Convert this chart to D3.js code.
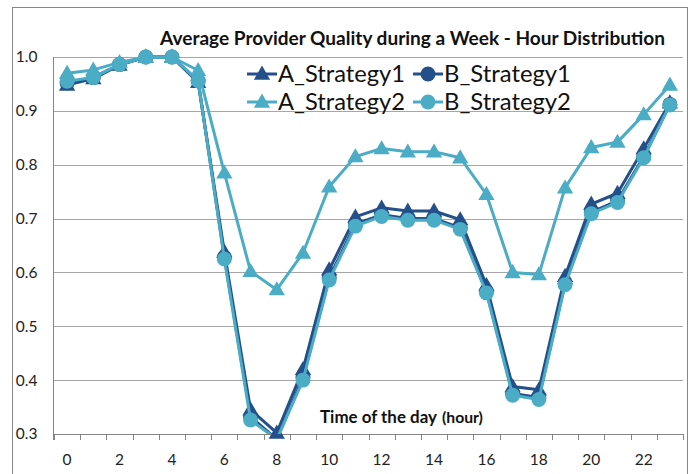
<!DOCTYPE html>
<html><head><meta charset="utf-8">
<script src="https://cdn.jsdelivr.net/npm/d3@7/dist/d3.min.js"></script>
<style>body{margin:0;background:#fff}svg{display:block}</style>
</head><body>
<svg id="c" width="693" height="474"></svg>
<script>
const hours = [0,1,2,3,4,5,6,7,8,9,10,11,12,13,14,15,16,17,18,19,20,21,22,23];
const xTickLabels = ["0","2","4","6","8","10","12","14","16","18","20","22"];
const yTicks = [0.3,0.4,0.5,0.6,0.7,0.8,0.9,1.0];
const seriesNames = ["A_Strategy1","B_Strategy1","A_Strategy2","B_Strategy2"];
const aStrategy1 = [0.948,0.960,0.985,1.0,1.0,0.953,0.638,0.345,0.302,0.420,0.605,0.703,0.720,0.714,0.714,0.698,0.576,0.388,0.382,0.593,0.727,0.747,0.830,0.915];
const bStrategy1 = [0.952,0.962,0.986,1.0,1.0,0.956,0.628,0.332,0.290,0.405,0.590,0.690,0.707,0.700,0.700,0.683,0.565,0.375,0.368,0.580,0.712,0.733,0.815,0.912];
const aStrategy2 = [0.970,0.976,0.990,1.0,1.0,0.975,0.785,0.602,0.568,0.636,0.759,0.815,0.830,0.824,0.824,0.813,0.745,0.600,0.596,0.757,0.832,0.842,0.893,0.948];
const bStrategy2 = [0.955,0.962,0.986,1.0,1.0,0.956,0.625,0.326,0.290,0.400,0.586,0.686,0.704,0.697,0.697,0.680,0.562,0.372,0.364,0.577,0.709,0.730,0.813,0.911];
const title = "Average Provider Quality during a Week - Hour Distribution";
const xTitle = "Time of the day";
const xTitleUnit = "(hour)";

const dark = "#24508a", light = "#4bacc6";
const series = [
  {name: seriesNames[0], values: aStrategy1, color: dark, shape: "tri"},
  {name: seriesNames[1], values: bStrategy1, color: dark, shape: "circ"},
  {name: seriesNames[2], values: aStrategy2, color: light, shape: "tri"},
  {name: seriesNames[3], values: bStrategy2, color: light, shape: "circ"}
];
const FONT = "Lato, 'Open Sans', sans-serif";
const svg = d3.select("#c");
const L = 53, R = 683, T = 57, B = 434;

// outer border
svg.append("rect").attr("x",12.5).attr("y",7.5).attr("width",675).attr("height",480)
  .attr("fill","none").attr("stroke","#878787").attr("stroke-width",1);

const x = d3.scaleBand().domain(hours).range([L+1, R]).padding(0);
const y = d3.scaleLinear().domain([0.3,1.0]).range([B, T]);
const cx = h => x(h) + x.bandwidth()/2;

// gridlines
svg.append("g").selectAll("line").data(yTicks.slice(1)).join("line")
  .attr("x1",L).attr("x2",R).attr("y1",d=>Math.round(y(d))+0.5).attr("y2",d=>Math.round(y(d))+0.5)
  .attr("stroke","#a6a6a6").attr("stroke-width",1);

// y axis
const yAxis = d3.axisLeft(y).tickValues(yTicks).tickFormat(d3.format(".1f")).tickSize(0).tickPadding(16);
const gy = svg.append("g").attr("transform",`translate(${L+0.5},0)`).call(yAxis);
gy.select(".domain").remove();
gy.selectAll("text").attr("font-family",FONT).attr("font-size",15.5).attr("fill","#222").attr("dx",0);
svg.append("line").attr("x1",L+0.5).attr("x2",L+0.5).attr("y1",T).attr("y2",B+6).attr("stroke","#868686");

// x axis
const xb = d3.scaleLinear().domain([0,24]).range([L+1, R]);
const gx = svg.append("g");
gx.append("line").attr("x1",L).attr("x2",R).attr("y1",B+0.5).attr("y2",B+0.5).attr("stroke","#868686");
gx.selectAll(".tk").data(d3.range(25)).join("line").attr("class","tk")
  .attr("x1",d=>Math.round(xb(d))+0.5).attr("x2",d=>Math.round(xb(d))+0.5)
  .attr("y1",B).attr("y2",B+6).attr("stroke","#868686");
gx.selectAll("text").data(xTickLabels).join("text")
  .attr("x",d=>cx(+d)).attr("y",465).attr("text-anchor","middle")
  .attr("font-family",FONT).attr("font-size",15.5).attr("fill","#222").text(d=>d);

// series
const clip = svg.append("clipPath").attr("id","pa").append("rect")
  .attr("x",L).attr("y",T-20).attr("width",R-L+10).attr("height",B-T+20);
const line = d3.line().x((d,i)=>cx(hours[i])).y(d=>y(d));
const tri = d3.symbol().type(d3.symbolTriangle).size(115);
const circ = d3.symbol().type(d3.symbolCircle).size(175);
series.forEach(s=>{
  const g = svg.append("g");
  g.append("path").attr("d",line(s.values)).attr("fill","none").attr("stroke",s.color)
    .attr("stroke-width",3).attr("stroke-linejoin","round").attr("clip-path","url(#pa)");
  g.selectAll("path.m").data(s.values.map((v,i)=>({v,h:hours[i]})).filter(d=>d.v>=0.3)).join("path").attr("class","m")
    .attr("d", s.shape==="tri"? tri(): circ())
    .attr("transform",d=>`translate(${cx(d.h)},${y(d.v) + (s.shape==="tri"? 1:0)})`)
    .attr("fill",s.color);
});

function fit(sel, w){
  const len = sel.node().getComputedTextLength();
  const fs = parseFloat(sel.attr("font-size"));
  sel.attr("font-size", fs*w/len);
}

// title
const tt = svg.append("text").attr("x",412.5).attr("y",45).attr("text-anchor","middle")
  .attr("font-family",FONT).attr("font-weight","bold").attr("font-size",17).attr("fill","#111").text(title);
fit(tt, 505);

// legend
const legPos = [[247,74],[413,74],[247,102],[413,102]];
series.forEach((s,i)=>{
  const [lx,ly] = legPos[i];
  const g = svg.append("g");
  g.append("line").attr("x1",lx).attr("x2",lx+30).attr("y1",ly).attr("y2",ly).attr("stroke",s.color).attr("stroke-width",3);
  g.append("path").attr("d", s.shape==="tri"? tri(): circ()).attr("transform",`translate(${lx+15},${ly+(s.shape==="tri"?1:0)})`).attr("fill",s.color);
  const t = g.append("text").attr("x",lx+31).attr("y",ly+8).attr("font-family",FONT)
    .attr("font-size",23).attr("fill","#111").text(s.name);
  fit(t, 127);
});

// x title
const xt = svg.append("text").attr("x",320).attr("y",423).attr("font-family",FONT)
  .attr("font-weight","bold").attr("font-size",15).attr("fill","#111").text(xTitle);
fit(xt, 117);
const xu = svg.append("text").attr("x",442).attr("y",423).attr("font-family",FONT)
  .attr("font-weight","bold").attr("font-size",12.5).attr("fill","#111").text(xTitleUnit);
fit(xu, 41);
</script>
</body></html>
